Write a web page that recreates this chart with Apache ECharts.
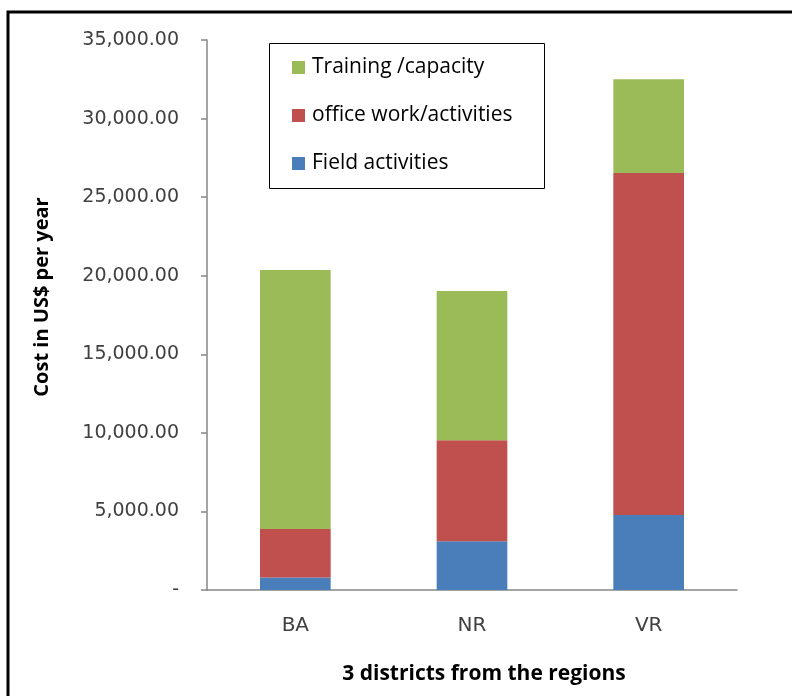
<!DOCTYPE html>
<html>
<head>
<meta charset="utf-8">
<script src="https://cdn.jsdelivr.net/npm/echarts@6/dist/echarts.min.js"></script>
<style>
  html, body { margin: 0; padding: 0; background: #fff; }
  #chart { width: 792px; height: 696px; }
</style>
</head>
<body>
<div id="chart"></div>
<script>
const districts = ['BA', 'NR', 'VR']
const fieldActivities = [800, 3100, 4770]
const officeWork = [3080, 6430, 21770]
const training = [16480, 9500, 5960]

const axisGray = '#868686'
const textGray = '#404040'

const chart = echarts.init(document.getElementById('chart'))

function fmt(v) {
  if (v === 0) return '-'
  return v.toLocaleString('en-US', { minimumFractionDigits: 2, maximumFractionDigits: 2 })
}

chart.setOption({
  animation: false,
  textStyle: { fontFamily: 'DejaVu Sans' },
  graphic: [
    {
      type: 'rect',
      shape: { x: 8, y: 12, width: 820, height: 720 },
      style: { fill: 'none', stroke: '#000', lineWidth: 3 },
      silent: true
    },
    {
      type: 'rect',
      shape: { x: 269.5, y: 43.5, width: 275, height: 145 },
      style: { fill: '#fff', stroke: '#000', lineWidth: 1 },
      z: 0,
      silent: true
    },
    // y axis title, placed by hand (not centred on the grid in the original)
    {
      type: 'text',
      x: 42,
      y: 297,
      rotation: Math.PI / 2,
      style: {
        text: 'Cost in US$ per year',
        fontFamily: 'Open Sans',
        fontWeight: 'bold',
        fontSize: 20,
        fill: '#000',
        align: 'center',
        verticalAlign: 'middle'
      },
      silent: true
    }
  ],
  legend: {
    orient: 'vertical',
    left: 292,
    top: 57,
    padding: 0,
    itemWidth: 13,
    itemHeight: 13,
    itemGap: 27,
    z: 10,
    icon: 'rect',
    data: ['Training /capacity', 'office work/activities', 'Field activities'],
    textStyle: { fontFamily: 'Open Sans', fontSize: 21, lineHeight: 21, color: '#000', padding: [0, 0, 0, 2] }
  },
  grid: { left: 207, right: 55, top: 40, bottom: 106, containLabel: false },
  xAxis: {
    type: 'category',
    data: districts,
    name: '3 districts from the regions',
    nameLocation: 'middle',
    nameGap: 74,
    nameTextStyle: { fontFamily: 'Open Sans', fontWeight: 'bold', fontSize: 21, color: '#000', padding: [0, 0, 0, 24] },
    axisLine: { lineStyle: { color: axisGray, width: 1.5 } },
    axisTick: { length: 6, lineStyle: { color: axisGray, width: 1.5 } },
    axisLabel: { color: textGray, fontSize: 20, margin: 26 }
  },
  yAxis: {
    type: 'value',
    min: 0,
    max: 35000,
    interval: 5000,
    axisLine: { show: true, lineStyle: { color: axisGray, width: 1.5 } },
    axisTick: { show: true, length: 6, lineStyle: { color: axisGray, width: 1.5 } },
    axisLabel: { color: textGray, fontSize: 19, margin: 28, formatter: fmt },
    splitLine: { show: false }
  },
  series: [
    {
      name: 'Field activities',
      type: 'bar',
      stack: 'cost',
      barWidth: '40%',
      data: fieldActivities,
      itemStyle: { color: '#4a7ebb' }
    },
    {
      name: 'office work/activities',
      type: 'bar',
      stack: 'cost',
      data: officeWork,
      itemStyle: { color: '#c0504d' }
    },
    {
      name: 'Training /capacity',
      type: 'bar',
      stack: 'cost',
      data: training,
      itemStyle: { color: '#9bbb59' }
    }
  ]
})

window.addEventListener('resize', () => chart.resize())
</script>
</body>
</html>
